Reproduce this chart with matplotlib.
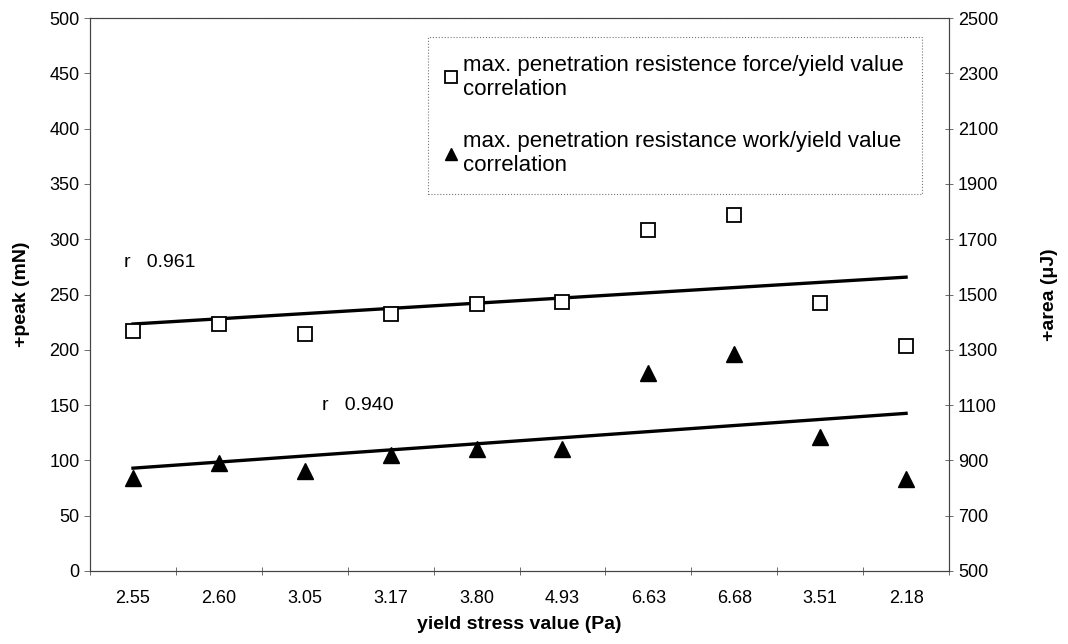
import numpy as np
import matplotlib.pyplot as plt

plt.rcParams['font.family'] = ['Liberation Sans', 'DejaVu Sans']

# data
yield_labels = ['2.55', '2.60', '3.05', '3.17', '3.80', '4.93', '6.63', '6.68', '3.51', '2.18']
peak_force = [217, 223, 214, 232, 241, 243, 308, 322, 242, 203]      # mN, left axis
area_work = [836, 891, 862, 920, 941, 941, 1216, 1285, 985, 833]     # uJ, right axis
r_force = '0.961'
r_work = '0.940'

idx = np.arange(len(yield_labels))

fig = plt.figure(figsize=(10.68, 6.44), dpi=100)
ax = fig.add_axes([0.0843, 0.1134, 0.8043, 0.8586])
ax2 = ax.twinx()

# linear trendlines on category index
fit_f = np.polyfit(idx, peak_force, 1)
fit_w = np.polyfit(idx, area_work, 1)

ax.plot(idx, np.polyval(fit_f, idx), color='black', lw=2.4, zorder=2)
ax2.plot(idx, np.polyval(fit_w, idx), color='black', lw=2.4, zorder=2)

sq, = ax.plot(idx, peak_force, ls='none', marker='s', ms=10, mfc='white',
              mec='black', mew=1.3, zorder=3)
tri, = ax2.plot(idx, area_work, ls='none', marker='^', ms=11, color='black', zorder=3)

ax.set_xlim(-0.5, len(idx) - 0.5)
ax.set_ylim(0, 500)
ax.set_yticks(np.arange(0, 501, 50))
ax2.set_ylim(500, 2500)
ax2.set_yticks(np.arange(500, 2501, 200))

# category labels at centres, tick marks at the boundaries
ax.set_xticks(np.arange(-0.5, len(idx), 1.0))
ax.set_xticklabels([])
ax.set_xticks(idx, minor=True)
ax.set_xticklabels(yield_labels, minor=True)
ax.tick_params(axis='x', which='major', direction='inout', length=6, width=0.6, color='#555555')
ax.tick_params(axis='x', which='minor', length=0, pad=14, labelsize=13)
ax.tick_params(axis='y', direction='out', length=4, width=0.6, color='#555555', labelsize=13)
ax2.tick_params(axis='y', direction='inout', length=6, width=0.6, color='#555555', labelsize=13)

for a in (ax, ax2):
    for s in a.spines.values():
        s.set_color('#444444')
        s.set_linewidth(0.8)
ax.spines['top'].set_linestyle(':')

ax.set_xlabel('yield stress value (Pa)', fontsize=14, fontweight='bold', labelpad=6)
ax.set_ylabel('+peak (mN)', fontsize=14, fontweight='bold', labelpad=14)
ax2.set_ylabel('+area (\u03bcJ)', fontsize=14, fontweight='bold', labelpad=31)

ax.text(-0.1, 279, 'r   ' + r_force, fontsize=14, va='center', ha='left')
ax.text(2.2, 150, 'r   ' + r_work, fontsize=14, va='center', ha='left')

leg = ax.legend([sq, tri],
                ['max. penetration resistence force/yield value\ncorrelation',
                 'max. penetration resistance work/yield value\ncorrelation'],
                loc='upper left', bbox_to_anchor=(0.393, 0.966), fontsize=16,
                handlelength=0.5, handletextpad=0.3, labelspacing=1.4,
                borderpad=0.8, fancybox=False, framealpha=1, borderaxespad=0)
leg.get_frame().set_edgecolor('#777777')
leg.get_frame().set_linestyle(':')
leg.get_frame().set_linewidth(0.8)
leg.legend_handles[0].set_markersize(9)
leg.legend_handles[1].set_markersize(9)

fig.savefig('out.png', dpi=100)
